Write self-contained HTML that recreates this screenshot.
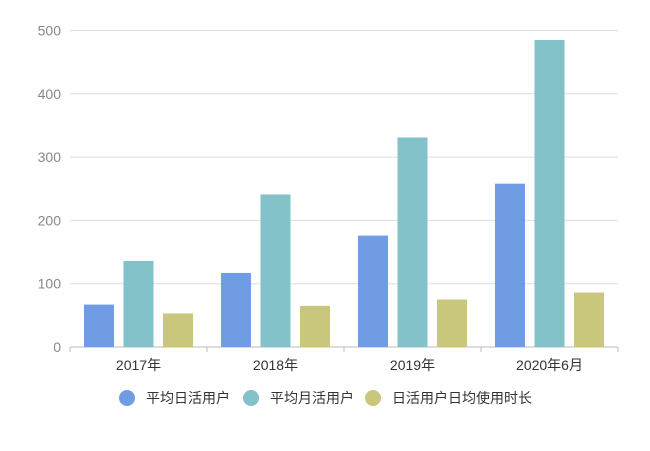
<!DOCTYPE html>
<html><head><meta charset="utf-8"><style>
body{margin:0;background:#fff;width:650px;height:446px;overflow:hidden}
text{font-family:"Liberation Sans","Noto Sans CJK SC",sans-serif}
</style></head><body>
<svg id="chart" width="650" height="446" xmlns="http://www.w3.org/2000/svg"></svg>
<script>
const categories=["2017年","2018年","2019年","2020年6月"];
const seriesNames=["平均日活用户","平均月活用户","日活用户日均使用时长"];
const dau=[67,117,176,258];
const mau=[136,241,331,485];
const duration=[53,65,75,86];
const yTicks=[0,100,200,300,400,500];
const colors=["#6f9ce3","#83c2c8","#c8c77c"];
const svg=document.getElementById('chart');
const NS="http://www.w3.org/2000/svg";
const x0=70,x1=618,y0=347,yTop=30.5,yMax=500;
const y=v=>y0-(v/yMax)*(y0-yTop);
const bw=(x1-x0)/categories.length;
function mk(t,a,p){const e=document.createElementNS(NS,t);for(const k in a)e.setAttribute(k,a[k]);(p||svg).appendChild(e);return e;}
yTicks.forEach(t=>{
  const l=mk('line',{x1:x0,x2:x1,y1:y(t),y2:y(t),stroke:t===0?'#bbb':'#ddd','stroke-width':1});
  
  
  const tx=mk('text',{x:61,y:y(t)+5,'text-anchor':'end','font-size':14,fill:'#888'});
  tx.textContent=t;
  
  
});
for(let i=0;i<=categories.length;i++){
  const tk=mk('line',{x1:x0+i*bw,x2:x0+i*bw,y1:y0,y2:y0+5,stroke:'#bbb'});
  
  
}
const series=[dau,mau,duration];
categories.forEach((c,i)=>{
  series.forEach((s,j)=>{
    const r=mk('rect',{x:x0+i*bw+14+j*39.5,y:y(s[i]),width:30,height:y0-y(s[i]),fill:colors[j]});
    
    
  });
  const t=mk('text',{x:x0+i*bw+bw/2,y:370,'text-anchor':'middle','font-size':14,fill:'#333'});
  t.textContent=c;
  
  
});
const lx=[127,251,373];
seriesNames.forEach((n,j)=>{
  const g=mk('g',{});
  
  
  mk('circle',{cx:lx[j],cy:398,r:8,fill:colors[j]},g);
  const t=mk('text',{x:lx[j]+19,y:403,'font-size':14,fill:'#333'},g);
  t.textContent=n;
});
</script>
</body></html>
